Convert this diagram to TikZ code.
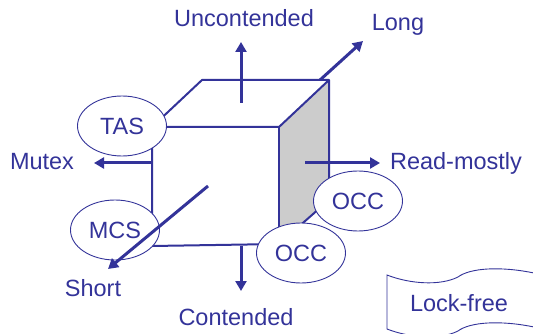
\documentclass[tikz,border=0pt]{standalone}
\usepackage{fontspec}
\setmainfont{Liberation Sans}
\usetikzlibrary{arrows.meta,shapes.geometric}
\definecolor{ink}{RGB}{51,51,153}
\definecolor{shadegrey}{RGB}{204,204,204}
\tikzset{
  edgeline/.style={draw=ink, line width=2pt, line join=round},
  axisarrow/.style={draw=ink, line width=3pt, -{Triangle[length=10pt,width=11pt]}},
  lockell/.style={ellipse, draw=ink, fill=white, line width=0.9pt, inner sep=0pt,
     minimum width=89pt, minimum height=60pt, text=ink, font=\fontsize{23.5}{27}\selectfont},
  lbl/.style={text=ink, font=\fontsize{23.5}{27}\selectfont, inner sep=0pt, anchor=base},
  thinline/.style={draw=ink, line width=0.9pt}
}
\begin{document}
\begin{tikzpicture}[x=1pt,y=-1pt]
\useasboundingbox (0,0) rectangle (533,334);
% cube corners
\coordinate (ftl) at (152,127);
\coordinate (ftr) at (279,127);
\coordinate (fbl) at (152,246);
\coordinate (fbr) at (279,244);
\coordinate (btl) at (202,80);
\coordinate (btr) at (329,80);
\coordinate (bbr) at (329,200);
% right face shaded
\fill[shadegrey] (ftr) -- (btr) -- (bbr) -- (fbr) -- cycle;
% cube edges
\draw[edgeline] (ftl) -- (btl) -- (btr) -- (ftr) -- cycle;
\draw[edgeline] (ftr) -- (fbr);
\draw[edgeline] (btr) -- (bbr) -- (fbr);
\draw[edgeline] (ftl) -- (fbl) -- (fbr);
% axis start/end points
\coordinate (upS) at (241,103);
\coordinate (upE) at (241,42);
\coordinate (longS) at (320,80);
\coordinate (longE) at (363,41);
\coordinate (mutS) at (152,163);
\coordinate (mutE) at (94,163);
\coordinate (readS) at (305,163);
\coordinate (readE) at (380,163);
\coordinate (downS) at (241,246);
\coordinate (downE) at (241,291);
\coordinate (shortS) at (208,186);
\coordinate (shortE) at (108,269);
% axes
\draw[axisarrow] (upS) -- (upE);
\draw[axisarrow] (longS) -- (longE);
\draw[axisarrow] (mutS) -- (mutE);
\draw[axisarrow] (readS) -- (readE);
\draw[axisarrow] (downS) -- (downE);
% ellipses
\node[lockell] (tas) at (122,126) {TAS};
\node[lockell] (mcs) at (115,230) {MCS};
\node[lockell] (occr) at (358,201) {OCC};
\node[lockell] (occb) at (301,253) {OCC};
\draw[axisarrow] (shortS) -- (shortE);
% labels
\node[lbl] (uncont) at (244,27) {Uncontended};
\node[lbl] (long) at (398,31) {Long};
\node[lbl] (mutex) at (42,170) {Mutex};
\node[lbl] (readm) at (456,170) {Read-mostly};
\node[lbl] (short) at (93,296) {Short};
\node[lbl] (cont) at (236,325) {Contended};
% lock-free banner
\draw[thinline, fill=white] (387,275) .. controls (410,284) and (440,286) .. (458,277)
   .. controls (470,268) and (500,266) .. (534,273)
   -- (534,327) .. controls (500,320) and (470,322) .. (458,331)
   .. controls (440,340) and (410,338) .. (387,329) -- cycle;
\node[lbl] (lockfree) at (459,311) {Lock-free};
\end{tikzpicture}
\end{document}
